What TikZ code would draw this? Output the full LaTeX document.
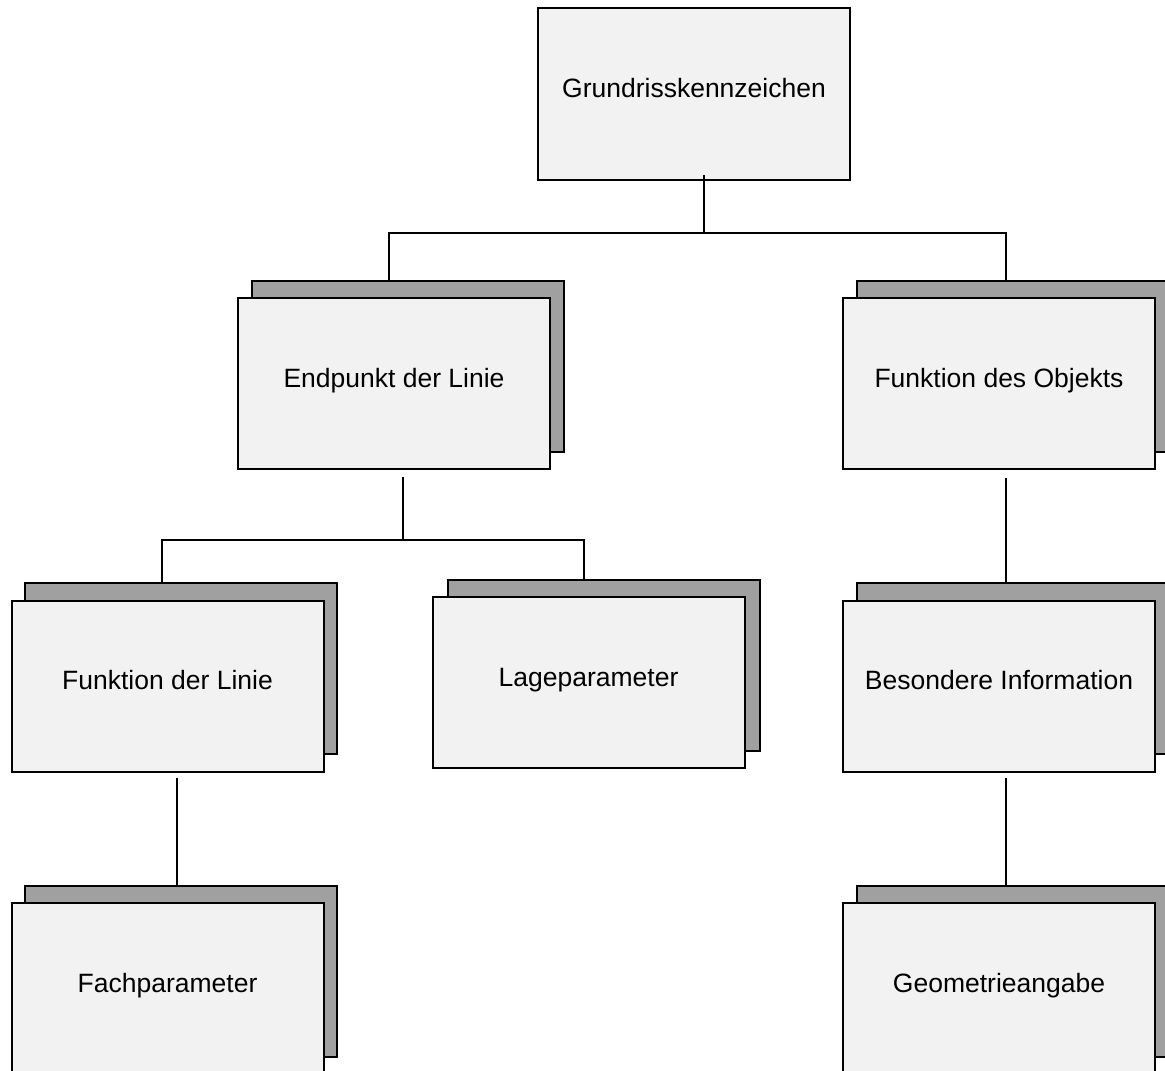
\documentclass[tikz,border=0pt]{standalone}
\usepackage{fontspec}
\setmainfont{Liberation Sans}
\usetikzlibrary{shadows,calc,backgrounds}
\definecolor{boxfill}{HTML}{F2F2F2}
\definecolor{shade}{HTML}{A0A0A0}

\begin{document}
\begin{tikzpicture}[x=0.5pt,y=-0.5pt,
  box/.style={rectangle, draw=black, line width=1pt, fill=boxfill,
    inner sep=0pt, outer sep=0pt, minimum width=156pt, minimum height=85.5pt,
    font=\fontsize{13.25}{15}\selectfont, text height=6.5pt, text depth=2.7pt},
  stacked/.style={box, copy shadow={shadow xshift=#1, shadow yshift=8.75pt,
    fill=shade, draw=black, line width=1pt}},
  stacked/.default=6.75pt,
  link/.style={draw=black, line width=1pt}]
\useasboundingbox (0,0) rectangle (1165,1070);
\clip (0,0) rectangle (1165,1070);

% boxes of the hierarchy
\node[box, minimum height=86pt] (top) at (694,94) {Grundrisskennzeichen};
\node[stacked] (endp) at (394,383.5) {Endpunkt der Linie};
\node[stacked] (fobj) at (999,383.5) {Funktion des Objekts};
\node[stacked] (flin) at (167.5,686) {Funktion der Linie};
\node[stacked=7.5pt] (lage) at (588.5,682.5) {Lageparameter};
\node[stacked] (besi) at (999,686) {Besondere Information};
\node[stacked] (fach) at (167.5,988.5) {Fachparameter};
\node[stacked] (geom) at (999,988.5) {Geometrieangabe};

% junction points of the tree lines
\coordinate (jtop) at (704,233);
\coordinate (jtl) at (389,233);
\coordinate (jtr) at (1006,233);
\coordinate (jmid) at (403,540);
\coordinate (jml) at (162,540);
\coordinate (jmr) at (584,540);
\coordinate (dobj) at (1006,478);
\coordinate (dlin) at (177,778);
\coordinate (dbes) at (1006,778);

% connectors, kept behind the boxes and their shadows
\begin{scope}[on background layer]
  \draw[link] (jtop |- top.south) -- (jtop);
  \draw[link] (jtl |- endp.north) -- (jtl) -- (jtr) -- (jtr |- fobj.north);
  \draw[link] ($(jmid |- endp.south)+(0,8)$) -- (jmid);
  \draw[link] (jml |- flin.north) -- (jml) -- (jmr) -- (jmr |- lage.north);
  \draw[link] (dobj) -- (dobj |- besi.north);
  \draw[link] (dlin) -- (dlin |- fach.north);
  \draw[link] (dbes) -- (dbes |- geom.north);
\end{scope}
% the stem below the top box starts just inside its frame
\draw[link] ($(jtop |- top.south)+(0,-5)$) -- (jtop |- top.south);
\end{tikzpicture}
\end{document}
